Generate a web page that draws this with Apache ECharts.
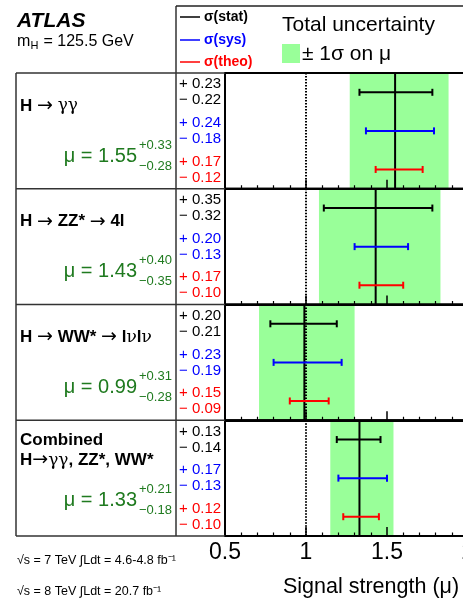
<!DOCTYPE html>
<html><head><meta charset="utf-8">
<script src="https://cdn.jsdelivr.net/npm/echarts@6/dist/echarts.min.js"></script>
<style>html,body{margin:0;padding:0;background:#fff}#c{width:463px;height:603px}</style>
</head><body><div id="c"></div>
<script>
// ---- data ----
const channels = ['H → γγ', 'H → ZZ* → 4l', 'H → WW* → lνlν', 'Combined H→γγ, ZZ*, WW*'];
const mu     = [1.55, 1.43, 0.99, 1.33];
const totUp  = [0.33, 0.40, 0.31, 0.21];
const totDn  = [0.28, 0.35, 0.28, 0.18];
const statUp = [0.23, 0.35, 0.20, 0.13];
const statDn = [0.22, 0.32, 0.21, 0.14];
const sysUp  = [0.24, 0.20, 0.23, 0.17];
const sysDn  = [0.18, 0.13, 0.19, 0.13];
const theoUp = [0.17, 0.17, 0.15, 0.12];
const theoDn = [0.12, 0.10, 0.09, 0.10];
const smRef  = [1];
const xTicks = [0.5, 1, 1.5, 2];
const xMin = 0.5, xMax = 2.0, xStep = 0.5;

// ---- layout / style ----
const FONT = '"Liberation Sans", Arial, Helvetica, sans-serif';
const TOP0 = 73, PH = 115.75, PL = 225, PW = 243;
const LEVELS = [1, 3, 5];
const COLORS = ['#000000', '#0000ff', '#ff0000'];
const GREEN_BAND = '#99ff99';
const GREEN_TXT = '#1f7a1f';

const channelRich = [
  '{b|H} {a|→} {n|γγ}',
  '{b|H} {a|→} {b|ZZ*} {a|→} {b|4l}',
  '{b|H} {a|→} {b|WW*} {a|→} {b|l}{n|ν}{b|l}{n|ν}',
  '{b|Combined}\n{b|H}{a|→}{n|γγ}{b|, ZZ*, WW*}'
];

const chart = echarts.init(document.getElementById('c'), null, {renderer: 'canvas'});
const grids = [], xAxes = [], yAxes = [], series = [], graphic = [];

function line(x1, y1, x2, y2, w, c) {
  graphic.push({type: 'line', shape: {x1, y1, x2, y2}, style: {stroke: c || '#222', lineWidth: w || 1.5}, z: 10});
}
function txt(x, y, text, o) {
  o = o || {};
  graphic.push({type: 'text', x, y, z: 20, style: Object.assign({
    text, fontFamily: FONT, fontSize: 14, fill: '#000', textAlign: 'left', textVerticalAlign: 'middle'
  }, o)});
}

for (let i = 0; i < 4; i++) {
  const top = TOP0 + i * PH;
  grids.push({left: PL, top, width: PW, height: PH, show: true, borderColor: '#000', borderWidth: 2,
    backgroundColor: 'transparent', z: 3, containLabel: false, outerBoundsMode: 'none'});
  xAxes.push({gridIndex: i, type: 'value', min: xMin, max: xMax, interval: xStep, z: 4,
    axisLine: {show: true, onZero: false, lineStyle: {color: '#000', width: 2}},
    axisTick: {show: true, inside: true, length: 9, lineStyle: {color: '#000', width: 1.5}},
    minorTick: {show: true, splitNumber: 5, length: 3.5, lineStyle: {color: '#000', width: 1.2}},
    splitLine: {show: false}, minorSplitLine: {show: false},
    axisLabel: {show: i === 3, fontSize: 23, color: '#000', fontFamily: FONT, margin: 5, showMaxLabel: true,
      formatter: v => { const t = xTicks.find(k => Math.abs(k - v) < 1e-9); return t === undefined ? '' : String(t); }}
  });
  yAxes.push({gridIndex: i, type: 'value', min: 0, max: 6, inverse: true, show: false});

  // total uncertainty band
  series.push({type: 'custom', xAxisIndex: i, yAxisIndex: i, z: 1, silent: true,
    data: [[mu[i] - totDn[i], mu[i] + totUp[i]]],
    renderItem: (p, api) => {
      const a = api.coord([api.value(0), 0]), b = api.coord([api.value(1), 6]);
      return {type: 'rect', shape: {x: a[0], y: a[1], width: b[0] - a[0], height: b[1] - a[1]}, style: {fill: GREEN_BAND}};
    }});
  // SM reference dotted line
  series.push({type: 'custom', xAxisIndex: i, yAxisIndex: i, z: 2, silent: true,
    data: smRef.map(v => [v, 0]),
    renderItem: (p, api) => {
      const a = api.coord([api.value(0), 0]), b = api.coord([api.value(0), 6]);
      return {type: 'line', shape: {x1: a[0], y1: a[1], x2: b[0], y2: b[1]}, style: {stroke: '#000', lineWidth: 2, lineDash: [1.5, 1.5]}};
    }});
  // central value line
  series.push({type: 'custom', xAxisIndex: i, yAxisIndex: i, z: 2, silent: true,
    data: [[mu[i], 0]],
    renderItem: (p, api) => {
      const a = api.coord([api.value(0), 0]), b = api.coord([api.value(0), 6]);
      return {type: 'line', shape: {x1: a[0], y1: a[1], x2: b[0], y2: b[1]}, style: {stroke: '#000', lineWidth: 2}};
    }});
  // error bars
  const ups = [statUp[i], sysUp[i], theoUp[i]], dns = [statDn[i], sysDn[i], theoDn[i]];
  series.push({type: 'custom', xAxisIndex: i, yAxisIndex: i, z: 5, silent: true,
    data: [0, 1, 2].map(k => [mu[i], LEVELS[k], ups[k], dns[k], k]),
    renderItem: (p, api) => {
      const m = api.value(0), y = api.value(1), up = api.value(2), dn = api.value(3), k = api.value(4);
      const a = api.coord([m - dn, y]), b = api.coord([m + up, y]);
      const c = COLORS[k], st = {stroke: c, lineWidth: 2};
      return {type: 'group', children: [
        {type: 'line', shape: {x1: a[0], y1: a[1], x2: b[0], y2: b[1]}, style: st},
        {type: 'line', shape: {x1: a[0], y1: a[1] - 3.5, x2: a[0], y2: a[1] + 3.5}, style: st},
        {type: 'line', shape: {x1: b[0], y1: b[1] - 3.5, x2: b[0], y2: b[1] + 3.5}, style: st}
      ]};
    }});
  // numeric column
  series.push({type: 'custom', xAxisIndex: i, yAxisIndex: i, z: 5, silent: true, clip: false,
    data: [0, 1, 2].map(k => [xMin, LEVELS[k], ups[k], dns[k], k]),
    renderItem: (p, api) => {
      const a = api.coord([api.value(0), api.value(1)]);
      const k = api.value(4), c = COLORS[k];
      const f = {fontFamily: FONT, fontSize: 15, fill: c, textAlign: 'left', textVerticalAlign: 'middle'};
      return {type: 'group', children: [
        {type: 'text', x: a[0] - 46, y: a[1] - 8, style: Object.assign({text: '+ ' + api.value(2).toFixed(2)}, f)},
        {type: 'text', x: a[0] - 46, y: a[1] + 8, style: Object.assign({text: '− ' + api.value(3).toFixed(2)}, f)}
      ]};
    }});

  // left labels
  const rich = {
    b: {fontFamily: FONT, fontSize: 17, fontWeight: 'bold', fill: '#000', color: '#000', lineHeight: 20},
    n: {fontFamily: '"DejaVu Serif", serif', fontSize: 17, fontWeight: 'normal', fill: '#000', color: '#000', lineHeight: 20},
    a: {fontFamily: '"DejaVu Sans", sans-serif', fontSize: 19, fontWeight: 'normal', fill: '#000', color: '#000', lineHeight: 20}
  };
  txt(20, top + (i < 3 ? 33 : 30), channelRich[i], {rich, fontSize: 17});
  const muY = top + (i === 3 ? 80 : 83);
  txt(137, muY, 'μ = ' + mu[i].toFixed(2), {fontSize: 20, fill: GREEN_TXT, textAlign: 'right'});
  txt(139, muY - 11, '+' + totUp[i].toFixed(2), {fontSize: 13, fill: GREEN_TXT});
  txt(139, muY + 10, '−' + totDn[i].toFixed(2), {fontSize: 13, fill: GREEN_TXT});
  // divider lines in table
  line(16, top, PL, top, 1.5, '#333');
}
// table frame
const bottom = TOP0 + 4 * PH;
line(16, TOP0, 16, bottom, 1.5, '#333');
line(176, 6, 176, bottom, 1.5, '#333');
line(176, 6, 463, 6, 1.5, '#222');
line(16, bottom, PL, bottom, 1.5, '#333');

// header
txt(17, 21, 'ATLAS', {fontSize: 21, fontWeight: 'bold', fontStyle: 'italic'});
txt(17, 42, 'm', {fontSize: 16});
txt(30.5, 46, 'H', {fontSize: 11});
txt(39, 42, ' = 125.5 GeV', {fontSize: 16});

// legend
const legendNames = ['σ(stat)', 'σ(sys)', 'σ(theo)'];
const legendY = [17, 40, 62];
for (let k = 0; k < 3; k++) {
  line(180, legendY[k], 200, legendY[k], 1.5, COLORS[k]);
  txt(204, legendY[k], legendNames[k], {fontSize: 14, fontWeight: 'bold', fill: COLORS[k]});
}
txt(282, 25, 'Total uncertainty', {fontSize: 21});
graphic.push({type: 'rect', shape: {x: 282, y: 44, width: 18, height: 19}, style: {fill: GREEN_BAND}, z: 10});
txt(302, 54, '± 1σ on μ', {fontSize: 21});

// footer
txt(17, 561, '√s = 7 TeV ∫Ldt = 4.6-4.8 fb⁻¹', {fontSize: 12.5});
txt(17, 592, '√s = 8 TeV ∫Ldt = 20.7 fb⁻¹', {fontSize: 12.5});
txt(283, 587, 'Signal strength (μ)', {fontSize: 21.5});

chart.setOption({
  animation: false,
  grid: grids, xAxis: xAxes, yAxis: yAxes, series, graphic
});
</script></body></html>
